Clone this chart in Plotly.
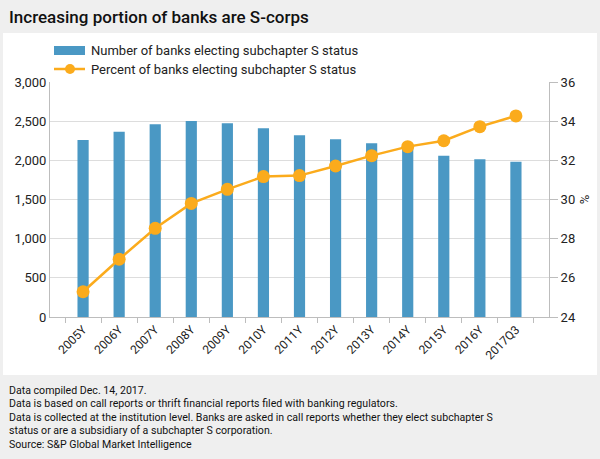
import plotly.graph_objects as go

categories = ["2005Y", "2006Y", "2007Y", "2008Y", "2009Y", "2010Y", "2011Y",
              "2012Y", "2013Y", "2014Y", "2015Y", "2016Y", "2017Q3"]
bank_counts = [2260, 2366, 2460, 2502, 2472, 2408, 2319, 2268, 2217, 2155, 2060, 2013, 1983]
bank_pct = [25.29, 26.95, 28.53, 29.8, 30.52, 31.17, 31.22, 31.71, 32.24, 32.70, 33.0, 33.72, 34.27]

left_ticks = [0, 500, 1000, 1500, 2000, 2500, 3000]
right_ticks = [24, 26, 28, 30, 32, 34, 36]

series_names = ["Number of banks electing subchapter S status",
                "Percent of banks electing subchapter S status"]
title_text = "Increasing portion of banks are S-corps"
footer_lines = [
    "Data compiled Dec. 14, 2017.",
    "Data is based on call reports or thrift financial reports filed with banking regulators.",
    "Data is collected at the institution level. Banks are asked in call reports whether they elect subchapter S",
    "status or are a subsidiary of a subchapter S corporation.",
    "Source: S&P Global Market Intelligence",
]

BLUE = "#4a98c4"
ORANGE = "#fbab1c"
FONT = "Roboto"
W, H = 600, 459
L, R, T, B = 50, 51, 82, 142
PW, PH = W - L - R, H - T - B


def px_x(x):
    return (x - L) / PW


def px_y(y):
    return (H - B - y) / PH


fig = go.Figure()
fig.add_trace(go.Bar(
    x=categories, y=bank_counts, name=series_names[0],
    marker=dict(color=BLUE, line=dict(width=0)), yaxis="y", showlegend=False,
))
fig.add_trace(go.Scatter(
    x=categories, y=bank_pct, name=series_names[1],
    mode="lines+markers", line=dict(color=ORANGE, width=2.5),
    marker=dict(color=ORANGE, size=13), yaxis="y2", showlegend=False,
))

shapes = [
    dict(type="rect", xref="paper", yref="paper",
         x0=px_x(3), x1=px_x(597), y0=px_y(375), y1=px_y(33),
         fillcolor="white", line=dict(width=0), layer="below"),
    # legend symbols
    dict(type="rect", xref="paper", yref="paper",
         x0=px_x(54), x1=px_x(85), y0=px_y(55), y1=px_y(46),
         fillcolor=BLUE, line=dict(width=0)),
    dict(type="line", xref="paper", yref="paper",
         x0=px_x(54), x1=px_x(85), y0=px_y(69), y1=px_y(69),
         line=dict(color=ORANGE, width=2.5)),
    dict(type="circle", xref="paper", yref="paper",
         x0=px_x(65), x1=px_x(75), y0=px_y(74), y1=px_y(64),
         fillcolor=ORANGE, line=dict(width=0)),
]

annotations = [dict(text=title_text, xref="paper", yref="paper",
                    x=px_x(7), y=px_y(17), xanchor="left", yanchor="middle",
                    showarrow=False, font=dict(family=FONT, size=17, color="#111111", weight=500))]
for i, name in enumerate(series_names):
    annotations.append(dict(text=name, xref="paper", yref="paper",
                            x=px_x(89), y=px_y(50.5 + i * 19), xanchor="left", yanchor="middle",
                            showarrow=False, font=dict(family=FONT, size=13, color="#222222")))
for i, line in enumerate(footer_lines):
    annotations.append(dict(text=line, xref="paper", yref="paper",
                            x=px_x(7), y=px_y(390.5 + i * 13.4), xanchor="left", yanchor="middle",
                            showarrow=False,
                            font=dict(family=FONT, size=10.6, color="#111111")))

fig.update_layout(
    width=W, height=H,
    margin=dict(l=L, r=R, t=T, b=B, pad=0),
    paper_bgcolor="#efefef", plot_bgcolor="white",
    font=dict(family=FONT, size=13, color="#222222"),
    bargap=0.69,
    showlegend=False,
    xaxis=dict(type="category", showline=True, linecolor="#bdbdbd", linewidth=1,
               ticks="outside", tickson="boundaries", ticklen=5, tickcolor="#bdbdbd",
               tickangle=-45, tickfont=dict(size=12), showgrid=False),
    yaxis=dict(range=[0, 3000], tickvals=left_ticks, tickformat=",", showline=True,
               linecolor="#bdbdbd", linewidth=1, gridcolor="#dddddd", gridwidth=1,
               ticks="", tickfont=dict(size=13), zeroline=False),
    yaxis2=dict(range=[24, 36], tickvals=right_ticks, overlaying="y", side="right",
                showline=True, linecolor="#bdbdbd", linewidth=1, showgrid=False,
                ticks="outside", ticklen=8, tickcolor="#bdbdbd", tickfont=dict(size=13),
                title=dict(text="%", standoff=4, font=dict(size=13)), zeroline=False),
    shapes=shapes, annotations=annotations,
)

fig.write_html("out.html")
